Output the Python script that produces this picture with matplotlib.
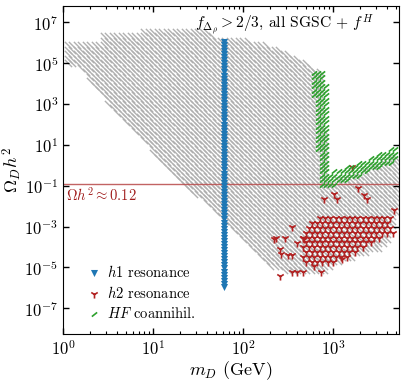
import numpy as np
import matplotlib
matplotlib.use('Agg')
from matplotlib import pyplot as plt
from matplotlib.path import Path
from matplotlib.ticker import FixedLocator, NullLocator, LogFormatterSciNotation

plt.rcParams['font.family'] = 'serif'
plt.rcParams['font.serif'] = ['cmr10']
plt.rcParams['mathtext.fontset'] = 'cm'
plt.rcParams['axes.formatter.use_mathtext'] = True
plt.rcParams['axes.unicode_minus'] = False

# scan grid in (log10 m_D, log10 Omega h^2)
LOGM_STEP = 0.05
LOGO_STEP = 0.2205

# region outlines, (log10 m_D / GeV, log10 Omega h^2)
allowed_outline = [
    (0.00, 5.98), (0.42, 5.98), (0.42, 6.51), (0.89, 6.51), (0.89, 6.76),
    (1.55, 6.76), (1.69, 6.32), (1.86, 6.27), (2.19, 6.02), (2.41, 5.73),
    (2.63, 5.29), (2.77, 4.76), (2.88, 4.50), (2.92, -0.90), (3.30, -0.30),
    (3.72, 0.55), (3.72, -2.20), (3.57, -4.00), (3.09, -4.70), (2.85, -5.25),
    (2.63, -5.25), (2.31, -5.05), (2.04, -3.98), (1.71, -2.50), (1.08, 0.20),
    (0.44, 3.30), (0.30, 4.10), (0.15, 4.90), (0.00, 5.00),
]

h2_outline = [
    (2.66, -3.30), (2.85, -2.40), (3.65, -2.40), (3.66, -3.30),
    (3.30, -4.20), (3.00, -4.80), (2.78, -5.00), (2.66, -4.80),
]
# isolated h2 resonance points
h2_logm = [2.36, 2.47, 2.66, 2.41, 2.50, 2.54, 2.60, 2.41, 2.54, 2.60, 2.66, 2.86,
           3.10, 2.54, 3.01, 3.04, 3.34, 3.38, 2.90, 3.68, 2.34, 2.42, 2.68, 3.21, 3.28]
h2_logo = [-3.54, -3.54, -3.54, -4.12, -4.37, -4.37, -3.78, -5.44, -5.20, -5.20, -5.20, -5.20,
           -4.61, -3.00, -1.39, -1.63, -1.44, -1.63, -1.63, -2.17, -3.59, -4.32, -3.59, -0.07, -1.10]

hf_outline = [
    (2.76, 4.60), (2.92, 4.60), (2.96, -0.35), (3.72, 0.95), (3.72, 0.25),
    (2.96, -1.10), (2.84, -1.10), (2.83, 2.50), (2.76, 3.80),
]

# h1 resonance column at m_D ~ m_h1 / 2
h1_logm = 1.79
h1_logo_range = (-5.95, 6.15)

omega_obs = 0.12


def grid_inside(outline, dlx, dly, stagger=False):
    lx = np.arange(0.0, 3.75, dlx)
    ly = np.arange(-8.0, 7.8, dly)
    pts = []
    for j, y in enumerate(ly):
        off = 0.5 * dlx if (stagger and j % 2) else 0.0
        for x in lx:
            pts.append((x + off, y))
    pts = np.array(pts)
    mask = Path(outline).contains_points(pts)
    return pts[mask]


def main():
    fig = plt.figure(figsize=(4.07, 3.85), dpi=100)
    ax = fig.add_axes([0.155, 0.132, 0.825, 0.852])

    # gray scan points, drawn as '\' dashes that join into stripes
    gray = grid_inside(allowed_outline, LOGM_STEP, LOGO_STEP)
    back = Path([(-1, 1), (1, -1)])
    ax.scatter(10**gray[:, 0], 10**gray[:, 1], marker=back, s=5.2**2,
               color='#b0b0b0', linewidths=1.0, zorder=1)

    ax.axhline(omega_obs, color='#b84848', lw=1.0, alpha=0.85, zorder=2)
    ax.text(0.008, 0.424, r'$\Omega h^2 \approx \mathbf{0.12}$', color='#a01c1c',
            fontsize=10.5, va='center', ha='left', transform=ax.transAxes)

    # h1 resonance
    h1_logo = np.arange(h1_logo_range[0], h1_logo_range[1], 0.15)
    ax.scatter(np.full(len(h1_logo), 10**h1_logm), 10**h1_logo, marker='v', s=26,
               color='#1f77b4', linewidths=0, zorder=4, label=r'$h1$ resonance')

    # h2 resonance
    red = grid_inside(h2_outline, 0.06, 0.235, stagger=True)
    rx = np.concatenate([red[:, 0], h2_logm])
    ry = np.concatenate([red[:, 1], h2_logo])
    ax.scatter(10**rx, 10**ry, marker='1', s=34, color='#b22222',
               linewidths=1.2, zorder=3, label=r'$h2$ resonance')

    # HF coannihilation
    green = grid_inside(hf_outline, 0.045, 0.22)
    fwd = Path([(-1, -0.8), (1, 0.8)])
    ax.scatter(10**green[:, 0], 10**green[:, 1], marker=fwd, s=3.8**2,
               color='#2ca02c', linewidths=1.2, zorder=3, label=r'$HF$ coannihil.')

    ax.set_xscale('log')
    ax.set_yscale('log')
    ax.set_xlim(1, 10**3.73)
    ax.set_ylim(10**-8.27, 10**7.8)

    ax.yaxis.set_major_locator(FixedLocator([10.0**k for k in range(-7, 8, 2)]))
    ax.yaxis.set_major_formatter(LogFormatterSciNotation())
    ax.yaxis.set_minor_locator(NullLocator())
    ax.tick_params(which='both', direction='in', top=True, right=True, labelsize=12)
    ax.tick_params(which='major', length=4.5, width=1.0)
    ax.tick_params(which='minor', length=2.5, width=0.8)

    ax.set_xlabel(r'$m_D$ (GeV)', fontsize=13, labelpad=1)
    ax.set_ylabel(r'$\Omega_D h^2$', fontsize=13, labelpad=0)

    ax.text(0.659, 0.942, r'$f_{\Delta_\rho} > 2/3$, all SGSC + $f^H$',
            transform=ax.transAxes, ha='center', va='center', fontsize=11.2)

    ax.legend(loc='lower left', bbox_to_anchor=(0.03, 0.0), frameon=False,
              fontsize=10.5, handletextpad=0.4, labelspacing=0.36,
              handlelength=1.0, markerscale=1.0)

    fig.savefig('out.png', dpi=100)
    plt.close(fig)


if __name__ == '__main__':
    main()
